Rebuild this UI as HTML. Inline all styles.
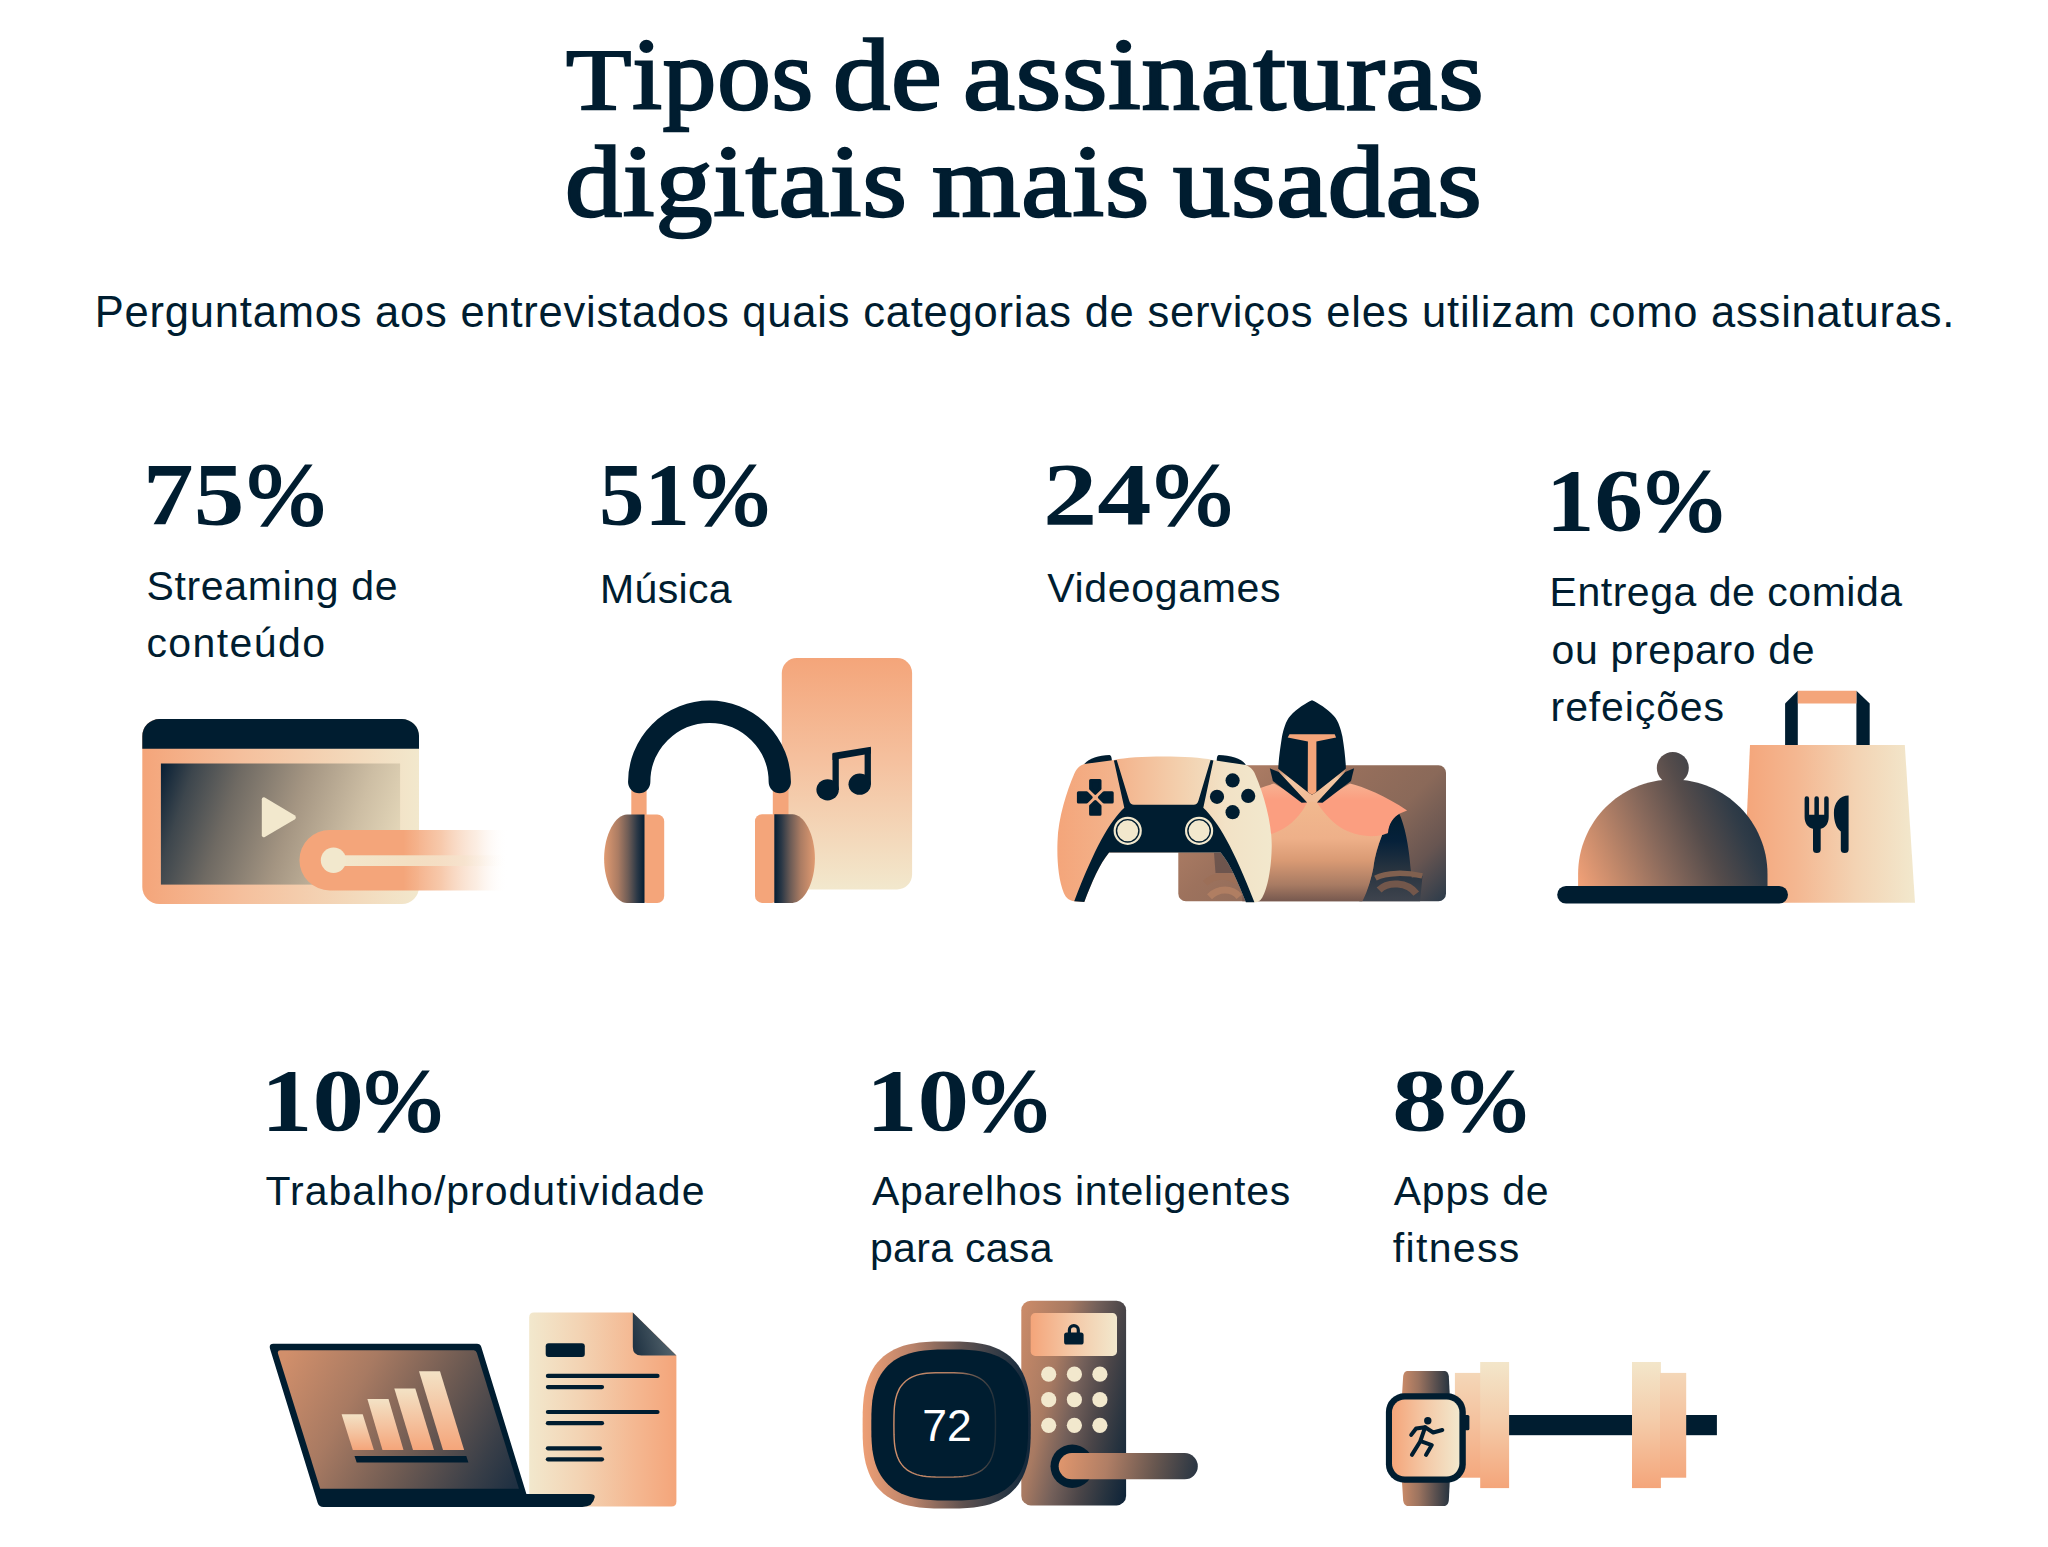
<!DOCTYPE html>
<html lang="pt-BR">
<head>
<meta charset="utf-8">
<title>Tipos de assinaturas digitais mais usadas</title>
<style>
html,body{margin:0;padding:0;background:#fff;}
body{width:2048px;height:1547px;position:relative;overflow:hidden;color:#001d30;}
.t{position:absolute;white-space:nowrap;line-height:1;margin:0;padding:0;transform-origin:0 50%;}
.h{font-family:"Liberation Serif","DejaVu Serif",serif;font-weight:400;font-size:101px;-webkit-text-stroke:2.4px #001d30;}
.n{font-family:"Liberation Serif","DejaVu Serif",serif;font-weight:700;font-size:89px;}
.p{font-weight:400;-webkit-text-stroke:2px #001d30;}
.s{font-family:"Liberation Sans","DejaVu Sans",sans-serif;font-weight:400;font-size:43.5px;}
.l{font-family:"Liberation Sans","DejaVu Sans",sans-serif;font-weight:400;font-size:41px;}
svg{position:absolute;overflow:visible;}
</style>
</head>
<body>
<!-- TITLE -->
<h1 style="margin:0;font-size:inherit;font-weight:inherit"><span class="t h" id="w1" style="left:565.6px;top:25.4px;letter-spacing:0.8px;transform:scaleX(1.06);"><span style="display:inline-block;transform:scaleY(.86);transform-origin:0 85.8px">T</span>ipos</span> <span class="t h" id="w2" style="left:833.4px;top:25.4px;letter-spacing:0.8px;transform:scaleX(1.131);">de</span> <span class="t h" id="w3" style="left:963.0px;top:25.4px;letter-spacing:0.8px;transform:scaleX(1.154);">assinaturas</span> <span class="t h" id="w4" style="left:565.0px;top:132.1px;letter-spacing:0.8px;transform:scaleX(1.128);">digitais</span> <span class="t h" id="w5" style="left:932.2px;top:132.1px;letter-spacing:0.8px;transform:scaleX(1.125);">mais</span> <span class="t h" id="w6" style="left:1173.2px;top:132.1px;letter-spacing:0.8px;transform:scaleX(1.129);">usadas</span></h1>
<p class="t s" id="sub" style="left:94.8px;top:291.0px;letter-spacing:0.79px;">Perguntamos aos entrevistados quais categorias de serviços eles utilizam como assinaturas.</p>

<!-- ROW 1 -->
<div class="t n" id="n1d" style="left:143.4px;top:450.0px;transform:scaleX(1.138);">75</div><div class="t n p" id="n1p" style="left:247.4px;top:450.0px;transform:scaleX(1.055);">%</div>
<div class="t l" id="l1a" style="left:146.4px;top:566.2px;letter-spacing:0.66px;">Streaming de</div>
<div class="t l" id="l1b" style="left:146.4px;top:622.8px;letter-spacing:1.43px;">conteúdo</div>

<div class="t n" id="n2d" style="left:599.0px;top:450.0px;transform:scaleX(1.022);">51</div><div class="t n p" id="n2p" style="left:690.8px;top:450.0px;transform:scaleX(1.057);">%</div>
<div class="t l" id="l2a" style="left:600.0px;top:568.6px;letter-spacing:0.36px;">Música</div>

<div class="t n" id="n3d" style="left:1043.4px;top:450.0px;transform:scaleX(1.22);">24</div><div class="t n p" id="n3p" style="left:1153.8px;top:450.0px;transform:scaleX(1.055);">%</div>
<div class="t l" id="l3a" style="left:1047.2px;top:568.4px;letter-spacing:0.69px;">Videogames</div>

<div class="t n" id="n4d" style="left:1546.4px;top:456.4px;transform:scaleX(1.089);">16</div><div class="t n p" id="n4p" style="left:1645.0px;top:456.4px;transform:scaleX(1.059);">%</div>
<div class="t l" id="l4a" style="left:1549.6px;top:572.2px;letter-spacing:0.52px;">Entrega de comida</div>
<div class="t l" id="l4b" style="left:1551.6px;top:629.6px;letter-spacing:0.63px;">ou preparo de</div>
<div class="t l" id="l4c" style="left:1550.6px;top:687.0px;letter-spacing:0.88px;">refeições</div>

<!-- ROW 2 -->
<div class="t n" id="n5d" style="left:260.8px;top:1056.2px;transform:scaleX(1.156);">10</div><div class="t n p" id="n5p" style="left:363.6px;top:1056.2px;transform:scaleX(1.057);">%</div>
<div class="t l" id="l5a" style="left:265.6px;top:1171.2px;letter-spacing:1.0px;">Trabalho/produtividade</div>

<div class="t n" id="n6d" style="left:866.4px;top:1056.2px;transform:scaleX(1.159);">10</div><div class="t n p" id="n6p" style="left:969.6px;top:1056.2px;transform:scaleX(1.057);">%</div>
<div class="t l" id="l6a" style="left:872.0px;top:1171.2px;letter-spacing:0.7px;">Aparelhos inteligentes</div>
<div class="t l" id="l6b" style="left:870.0px;top:1227.8px;letter-spacing:0.3px;">para casa</div>

<div class="t n" id="n7d" style="left:1391.6px;top:1056.0px;transform:scaleX(1.243);">8</div><div class="t n p" id="n7p" style="left:1449.4px;top:1056.0px;transform:scaleX(1.057);">%</div>
<div class="t l" id="l7a" style="left:1393.8px;top:1171.2px;letter-spacing:0.73px;">Apps de</div>
<div class="t l" id="l7b" style="left:1392.8px;top:1227.8px;letter-spacing:1.33px;">fitness</div>

<!-- ILLUSTRATIONS -->
<svg id="art" width="2048" height="1547" viewBox="0 0 2048 1547" style="left:0;top:0">
<!-- 1 streaming -->
<defs>
<linearGradient id="g1f" x1="0" x2="1" y1="0" y2="0"><stop offset="0" stop-color="#f4a57a"/><stop offset="0.35" stop-color="#f5bf9c"/><stop offset="1" stop-color="#f2e8cd"/></linearGradient>
<linearGradient id="g1s" gradientUnits="userSpaceOnUse" x1="161" y1="770" x2="400" y2="850"><stop offset="0" stop-color="#0a2136"/><stop offset="0.12" stop-color="#3d464d"/><stop offset="0.3" stop-color="#6f6a63"/><stop offset="0.55" stop-color="#a49582"/><stop offset="0.8" stop-color="#cdbea4"/><stop offset="1" stop-color="#e6d9bb"/></linearGradient>
<linearGradient id="g1p" gradientUnits="userSpaceOnUse" x1="299" y1="0" x2="508" y2="0"><stop offset="0" stop-color="#f4a57a"/><stop offset="0.5" stop-color="#f4a57a"/><stop offset="0.68" stop-color="#f6c3a2" stop-opacity="0.9"/><stop offset="0.85" stop-color="#f8dcc6" stop-opacity="0.5"/><stop offset="1" stop-color="#ffffff" stop-opacity="0"/></linearGradient>
<linearGradient id="g1l" gradientUnits="userSpaceOnUse" x1="333" y1="0" x2="508" y2="0"><stop offset="0" stop-color="#f2e8cd"/><stop offset="0.45" stop-color="#f3dfc2"/><stop offset="0.75" stop-color="#f6e3cd" stop-opacity="0.8"/><stop offset="1" stop-color="#ffffff" stop-opacity="0"/></linearGradient>
</defs>
<rect x="142.3" y="719.1" width="276.7" height="185" rx="17" fill="url(#g1f)"/>
<path d="M142.3 748.8V736.1a17 17 0 0 1 17-17H402a17 17 0 0 1 17 17V748.8Z" fill="#001d30"/>
<rect x="160.9" y="763.5" width="239.2" height="121.1" fill="url(#g1s)"/>
<path d="M264.8 797.6 L294.6 815.2 a2.6 2.6 0 0 1 0 4.4 L264.8 837 a2 2 0 0 1 -3 -1.7 V799.3 a2 2 0 0 1 3 -1.7Z" fill="#f2e8cd"/>
<path d="M329.7 829.9H508V890.4H329.7a30.25 30.25 0 0 1 0-60.5Z" fill="url(#g1p)"/>
<rect x="333" y="855.3" width="175" height="10.7" fill="url(#g1l)"/>
<circle cx="333.5" cy="860.2" r="12.7" fill="#f2e8cd"/>
<!-- 2 music -->
<defs>
<linearGradient id="g2p" x1="0" x2="0" y1="0" y2="1"><stop offset="0" stop-color="#f4a57a"/><stop offset="0.45" stop-color="#f5c19f"/><stop offset="1" stop-color="#f2e8cd"/></linearGradient>
<linearGradient id="g2l" x1="0" x2="1" y1="0" y2="0"><stop offset="0" stop-color="#e09a71"/><stop offset="0.35" stop-color="#ab7c63"/><stop offset="0.6" stop-color="#6d5c56"/><stop offset="0.82" stop-color="#2b3846"/><stop offset="1" stop-color="#031d33"/></linearGradient>
<linearGradient id="g2r" x1="1" x2="0" y1="0" y2="0"><stop offset="0" stop-color="#e09a71"/><stop offset="0.35" stop-color="#ab7c63"/><stop offset="0.6" stop-color="#6d5c56"/><stop offset="0.82" stop-color="#2b3846"/><stop offset="1" stop-color="#031d33"/></linearGradient>
</defs>
<rect x="781.8" y="658.1" width="130.3" height="231.3" rx="15" fill="url(#g2p)"/>
<rect x="631.3" y="786" width="15.3" height="32" fill="#f4a57a"/>
<rect x="772.8" y="786" width="15.7" height="32" fill="#f4a57a"/>
<path d="M639.2 782 A70.3 70.3 0 0 1 779.8 782" fill="none" stroke="#001d30" stroke-width="22.3" stroke-linecap="round"/>
<rect x="640" y="814.5" width="24.2" height="88.6" rx="7" fill="#f4a57a"/>
<path d="M644.5 814.5 H627 C615.5 814.5 604.1 834.4 604.1 858.8 C604.1 883.2 615.5 903.1 627 903.1 H644.5Z" fill="url(#g2l)"/>

<rect x="755" y="814.3" width="24" height="88.6" rx="7" fill="#f4a57a"/>
<path d="M774.3 814.3 H792.5 C804 814.3 814.9 834.2 814.9 858.6 C814.9 883 804 902.9 792.5 902.9 H774.3Z" fill="url(#g2r)"/>

<g fill="#001d30">
<polygon points="832.5,753.1 870.9,746.8 870.9,753.6 832.5,760.0"/>
<rect x="832.5" y="754" width="6.3" height="36" />
<rect x="864.6" y="748" width="6.3" height="36" />
<ellipse cx="827.6" cy="789.8" rx="11.2" ry="10.6"/>
<ellipse cx="859.7" cy="784.2" rx="11.2" ry="10.6"/>
</g>
<!-- 3 games -->
<defs>
<linearGradient id="g3b" gradientUnits="userSpaceOnUse" x1="1057" y1="0" x2="1272" y2="0"><stop offset="0" stop-color="#f4a57a"/><stop offset="0.3" stop-color="#f3b58e"/><stop offset="0.58" stop-color="#f3d0ae"/><stop offset="0.78" stop-color="#f2e2c6"/><stop offset="1" stop-color="#f2e8cd"/></linearGradient>
<linearGradient id="g3bg" gradientUnits="userSpaceOnUse" x1="1178" y1="765" x2="1379.5" y2="966.5"><stop offset="0" stop-color="#bd886c"/><stop offset="0.34" stop-color="#9d725d"/><stop offset="0.66" stop-color="#8a6959"/><stop offset="0.84" stop-color="#675551"/><stop offset="1" stop-color="#2c3b4a"/></linearGradient>
<linearGradient id="g3t" gradientUnits="userSpaceOnUse" x1="0" y1="800" x2="0" y2="901"><stop offset="0" stop-color="#f2b98f"/><stop offset="0.38" stop-color="#eeb089"/><stop offset="0.6" stop-color="#d99a74"/><stop offset="0.84" stop-color="#a87b63"/><stop offset="1" stop-color="#77594f"/></linearGradient>
<linearGradient id="g3a" gradientUnits="userSpaceOnUse" x1="0" y1="815" x2="0" y2="902"><stop offset="0" stop-color="#001d30"/><stop offset="0.3" stop-color="#06213a"/><stop offset="0.62" stop-color="#27333f"/><stop offset="1" stop-color="#3f444e"/></linearGradient>
<linearGradient id="g3s" gradientUnits="userSpaceOnUse" x1="1278" y1="770" x2="1310" y2="798"><stop offset="0" stop-color="#c08767"/><stop offset="0.3" stop-color="#f3c9a6"/><stop offset="1" stop-color="#f1bc96"/></linearGradient>
<linearGradient id="g3s2" gradientUnits="userSpaceOnUse" x1="1346" y1="770" x2="1314" y2="798"><stop offset="0" stop-color="#c08767"/><stop offset="0.3" stop-color="#f3c9a6"/><stop offset="1" stop-color="#f1bc96"/></linearGradient>
<linearGradient id="g3p" gradientUnits="userSpaceOnUse" x1="0" y1="778" x2="0" y2="815"><stop offset="0" stop-color="#f6b898"/><stop offset="0.6" stop-color="#fb9e80"/><stop offset="1" stop-color="#fb9e80"/></linearGradient>
<clipPath id="c3"><rect x="1178.3" y="765.3" width="267.7" height="135.9" rx="7.5"/></clipPath>
</defs>
<rect x="1178.3" y="765.3" width="267.7" height="135.9" rx="7.5" fill="url(#g3bg)"/>
<g clip-path="url(#c3)">
<path d="M1214.0 852.8 L1233.3 852.8 L1237.8 872.9 L1215.5 872.9 Z" fill="#5b4a48" opacity="0.7"/>
<path d="M1205.1 883.3 C1214.0 874.4 1227.4 874.4 1237.8 881.8" fill="none" stroke="#9c6f58" stroke-width="6.5"/>
<path d="M1209.5 896.7 C1218.4 887.8 1231.8 887.8 1239.3 896.7" fill="none" stroke="#b07e62" stroke-width="7"/>
<path d="M1387.7 833.5 C1388.0 823.8 1392.5 816.4 1399.2 813.7 C1404.4 823.8 1409.1 846.1 1410.6 868.4 L1411.8 877.7 L1422.5 875.9 L1420.0 902.6 L1358.3 902.6 C1365.7 895.2 1370.2 883.3 1373.2 868.4 C1374.6 856.5 1379.1 843.2 1382.1 835.0 Z" fill="url(#g3a)"/>
<path d="M1375.4 878.1 C1386.5 872.2 1405.9 872.2 1422.2 875.9" fill="none" stroke="#80604f" stroke-width="5.5"/>
<path d="M1379.1 890.0 C1388.0 881.1 1407.4 881.8 1416.3 893.7" fill="none" stroke="#73574b" stroke-width="7"/>
<path d="M1242.3 800.8 L1370.2 800.8 L1382.1 835.0 C1377.6 846.1 1374.6 856.5 1373.2 868.4 C1370.2 883.3 1365.7 895.2 1362.0 901.9 L1242.3 901.9 Z" fill="url(#g3t)"/>
<path d="M1316.9 802.5 L1350.0 783.6 C1363.4 786.7 1386.2 796.5 1407.1 810.5 L1399.8 813.6 C1393.4 817.2 1388.8 823.4 1388.0 832.7 L1382.2 835.0 C1363.4 838.9 1344.8 832.7 1332.4 821.3 C1326.2 815.1 1321.0 808.9 1316.9 802.5 Z" fill="url(#g3p)"/>
<path d="M1307.1 802.5 L1274.0 783.6 C1266.2 785.7 1255.9 789.3 1247.6 793.4 L1247.6 834.8 L1270.3 834.4 C1282.8 830.7 1294.1 822.4 1301.4 812.0 C1304.0 808.4 1305.5 805.3 1307.1 802.5 Z" fill="url(#g3p)"/>
<polygon points="1278.4,769.1 1307.7,792.1 1312.0,794.7 1312.0,801.2 1307.1,802.4 1278.8,771.9" fill="url(#g3s)"/>
<polygon points="1345.6,769.1 1316.4,792.1 1312.0,794.7 1312.0,801.2 1317.0,802.4 1345.2,771.9" fill="url(#g3s2)"/>
<polygon points="1269.8,768.3 1278.8,771.9 1307.1,802.4 1301.6,802.7 1272.9,781.0" fill="#001d30"/>
<polygon points="1354.1,768.3 1345.2,771.9 1317.0,802.4 1322.5,802.7 1351.0,781.0" fill="#001d30"/>
</g>
<path d="M1312.0 700.3 C1317.9 702.9 1327.2 708.6 1333.9 715.9 C1338.6 721.0 1341.2 730.3 1342.4 736.5 C1344.3 747.9 1345.4 758.3 1345.8 766.0 L1345.8 768.8 L1316.4 792.1 L1312.0 794.7 L1307.7 792.1 L1278.2 768.8 L1278.4 766.0 C1278.8 758.3 1280.2 747.9 1282.0 736.5 C1283.3 730.3 1285.6 721.0 1290.2 715.9 C1296.7 708.6 1306.2 702.9 1312.0 700.3 Z" fill="#001d30"/>
<polygon points="1289.5,734.3 1334.7,734.3 1336.1,737.4 1316.4,741.4 1316.4,791.9 1312.0,794.7 1307.7,791.9 1307.9,741.4 1287.7,737.4" fill="#f4a57a"/>
<path d="M1082.1 768.8 C1082.8 761.4 1095.8 755.1 1109.6 755.1 Q1111.4 755.4 1111.8 759.9 L1112.3 768.8 Z" fill="#001d30"/><path d="M1246.4 766.6 C1245.2 760.2 1231.8 755.1 1218.7 755.1 Q1217.0 755.4 1216.7 759.9 L1216.1 768.8 Z" fill="#001d30"/>
<path d="M1074.5 773.3 C1077.2 767.3 1080.9 764.8 1084.6 763.9 L1114.3 759.9 C1135.2 755.4 1191.7 755.4 1212.5 759.9 L1245.9 765.1 C1251.2 767.3 1253.8 771.0 1255.2 774.5 C1263.8 794.1 1272.3 823.8 1271.7 847.6 C1271.4 868.4 1267.5 889.3 1262.3 897.4 C1260.1 901.2 1257.1 902.6 1254.1 902.3 L1245.9 902.3 C1237.8 881.8 1230.3 864.0 1220.7 852.4 L1109.1 852.4 C1099.5 864.0 1092.0 881.8 1084.3 901.9 L1074.5 901.2 C1069.7 900.9 1066.0 898.2 1063.8 893.0 C1058.6 880.3 1056.8 861.0 1057.5 841.7 C1058.1 817.9 1066.8 791.1 1074.5 773.3 Z" fill="url(#g3b)"/>
<path d="M1113.9 760.5 L1116.7 759.9 L1129.2 800.8 Q1130.3 804.8 1134.0 804.8 L1193.6 804.8 Q1197.3 804.8 1198.4 800.8 L1210.6 759.9 L1213.4 760.5 L1203.3 807.8 C1218.4 822.3 1233.3 847.6 1254.4 902.3 L1245.9 902.3 C1237.8 881.8 1230.3 864.0 1220.7 852.4 L1109.1 852.4 C1099.5 864.0 1092.0 881.8 1084.3 901.9 L1074.2 901.2 C1095.0 847.6 1109.1 822.3 1124.3 807.8 Z" fill="#001d30"/>
<circle cx="1127.7" cy="830.8" r="14.1" fill="#f2e8cd"/><circle cx="1127.7" cy="830.8" r="11.2" fill="none" stroke="#001d30" stroke-width="1.4"/><circle cx="1199.1" cy="830.8" r="14.1" fill="#f2e8cd"/><circle cx="1199.1" cy="830.8" r="11.2" fill="none" stroke="#001d30" stroke-width="1.4"/>
<g fill="#001d30" stroke="#001d30" stroke-width="3.2" stroke-linejoin="round">
<polygon points="1090.7,780.6 1099.9,780.6 1099.9,788.7 1095.3,793.2 1090.7,788.7"/>
<polygon points="1090.7,780.6 1099.9,780.6 1099.9,788.7 1095.3,793.2 1090.7,788.7" transform="rotate(90 1095.3 797.4)"/>
<polygon points="1090.7,780.6 1099.9,780.6 1099.9,788.7 1095.3,793.2 1090.7,788.7" transform="rotate(180 1095.3 797.4)"/>
<polygon points="1090.7,780.6 1099.9,780.6 1099.9,788.7 1095.3,793.2 1090.7,788.7" transform="rotate(270 1095.3 797.4)"/>
</g>
<circle cx="1232.6" cy="780.4" r="7.1" fill="#001d30" /><circle cx="1217.0" cy="796.8" r="7.1" fill="#001d30" /><circle cx="1248.2" cy="795.9" r="7.1" fill="#001d30" /><circle cx="1232.6" cy="812.2" r="7.1" fill="#001d30" />
<!-- 4 food -->
<defs>
<linearGradient id="g4b" gradientUnits="userSpaceOnUse" x1="1745" y1="0" x2="1915" y2="0"><stop offset="0" stop-color="#f4a57a"/><stop offset="0.3" stop-color="#f4b791"/><stop offset="0.65" stop-color="#f3d3b3"/><stop offset="1" stop-color="#f2e8cd"/></linearGradient>
<linearGradient id="g4d" gradientUnits="userSpaceOnUse" x1="1578" y1="880" x2="1762" y2="800"><stop offset="0" stop-color="#f0a077"/><stop offset="0.18" stop-color="#c58a6b"/><stop offset="0.42" stop-color="#8a6a5c"/><stop offset="0.65" stop-color="#554c4b"/><stop offset="0.85" stop-color="#2f3b47"/><stop offset="1" stop-color="#1d3041"/></linearGradient>
</defs>
<polygon points="1785.1,703.4 1797.8,690.7 1797.8,746.4 1785.1,746.4" fill="#001d30"/><polygon points="1856.4,690.7 1869.7,703.4 1869.7,746.4 1856.4,746.4" fill="#001d30"/><polygon points="1797.8,690.7 1856.4,690.7 1856.4,703.4 1797.8,703.4" fill="#f4a57a"/>
<polygon points="1750.0,745.0 1904.8,745.0 1915.0,902.7 1743.1,902.7" fill="url(#g4b)"/>
<path d="M1804.6 798.4 Q1804.6 796.2 1806.8 796.2 Q1809.1 796.2 1809.1 798.4 L1809.1 814.8 L1814.4 814.8 L1814.4 798.4 Q1814.4 796.2 1816.6 796.2 Q1818.9 796.2 1818.9 798.4 L1818.9 814.8 L1824.2 814.8 L1824.2 798.4 Q1824.2 796.2 1826.3 796.2 Q1828.7 796.2 1828.7 798.4 L1828.7 816.7 C1828.7 823.6 1825.5 827.5 1820.7 828.8 L1820.7 849.5 Q1820.7 853.0 1816.8 853.0 Q1813.0 853.0 1813.0 849.5 L1813.0 828.8 C1808.0 827.5 1804.6 823.6 1804.6 816.7 Z" fill="#001d30"/><path d="M1848.6 795.6 L1848.6 849.5 Q1848.6 853.0 1844.7 853.0 Q1840.8 853.0 1840.8 849.5 L1840.8 831.4 C1835.9 828.4 1833.9 820.6 1833.9 812.8 C1833.9 803.0 1839.8 795.6 1848.6 795.6 Z" fill="#001d30"/>
<path d="M1578.1 890 V874 C1578.1 822 1620 779.4 1672.8 779.4 C1725.6 779.4 1767.5 822 1767.5 874 V890Z" fill="url(#g4d)"/>
<circle cx="1672.8" cy="767.9" r="16" fill="url(#g4d)"/>
<rect x="1557.2" y="886" width="230.8" height="17.6" rx="8.8" fill="#001d30"/>
<!-- 5 work -->
<defs>
<linearGradient id="g5s" gradientUnits="userSpaceOnUse" x1="285" y1="1355" x2="515" y2="1485"><stop offset="0" stop-color="#d18f6b"/><stop offset="0.3" stop-color="#a87a62"/><stop offset="0.6" stop-color="#6d5a52"/><stop offset="0.85" stop-color="#3a3f48"/><stop offset="1" stop-color="#1f3042"/></linearGradient>
<linearGradient id="g5c" x1="0" y1="0" x2="0" y2="1"><stop offset="0" stop-color="#f3e2c5"/><stop offset="0.5" stop-color="#f4c4a1"/><stop offset="1" stop-color="#f4a57a"/></linearGradient>
<linearGradient id="g5d" gradientUnits="userSpaceOnUse" x1="529" y1="0" x2="676" y2="0"><stop offset="0" stop-color="#f2e8cd"/><stop offset="0.35" stop-color="#f3d3b3"/><stop offset="0.7" stop-color="#f4b993"/><stop offset="1" stop-color="#f4a57a"/></linearGradient>
<linearGradient id="g5f" gradientUnits="userSpaceOnUse" x1="633" y1="1340" x2="670" y2="1330"><stop offset="0" stop-color="#213444"/><stop offset="1" stop-color="#55656e"/></linearGradient>
</defs>
<path d="M533.9 1312.6 L632.8 1312.6 L676.4 1355.5 L676.4 1501.6 Q676.4 1506.6 671.4 1506.6 L533.9 1506.6 Q529.2 1506.6 529.2 1501.6 L529.2 1317.5 Q529.2 1312.6 533.9 1312.6 Z" fill="url(#g5d)"/>
<path d="M632.8 1312.6 L676.4 1355.5 L641.4 1355.5 Q632.8 1355.5 632.8 1346.9 Z" fill="url(#g5f)"/>
<rect x="545.7" y="1343.3" width="39.1" height="13.7" rx="3" fill="#001d30"/>
<g stroke="#001d30" stroke-width="4.2" stroke-linecap="round"><line x1="547.9" y1="1375.9" x2="657.5" y2="1375.9"/><line x1="547.9" y1="1387.1" x2="602.0" y2="1387.1"/><line x1="547.9" y1="1412.0" x2="657.5" y2="1412.0"/><line x1="547.9" y1="1423.2" x2="602.0" y2="1423.2"/><line x1="547.9" y1="1448.3" x2="599.9" y2="1448.3"/><line x1="547.9" y1="1459.3" x2="602.0" y2="1459.3"/></g>
<path d="M273.3 1343.7 L477.0 1343.7 Q480.2 1343.7 481.3 1346.9 L526.4 1494.1 L589.8 1494.1 Q595.2 1494.1 594.7 1497.3 Q593.0 1507.0 582.3 1507.0 L323.4 1507.0 Q319.1 1507.0 317.6 1502.7 L270.1 1349.1 Q268.6 1343.7 273.3 1343.7 Z" fill="#001d30"/>
<path d="M280.4 1350.2 L473.8 1350.2 Q475.9 1350.2 476.8 1352.7 L518.9 1488.7 L320.2 1488.7 L278.0 1353.4 Q277.2 1350.2 280.4 1350.2 Z" fill="url(#g5s)"/>
<polygon points="341.6,1414.2 362.7,1414.2 373.9,1450.1 352.8,1450.1" fill="url(#g5c)"/><polygon points="367.4,1399.1 388.5,1399.1 403.5,1450.1 382.5,1450.1" fill="url(#g5c)"/><polygon points="394.3,1388.4 415.3,1388.4 434.0,1450.1 413.0,1450.1" fill="url(#g5c)"/><polygon points="419.0,1371.2 440.0,1371.2 464.1,1450.1 443.0,1450.1" fill="url(#g5c)"/>
<polygon points="354.5,1455.9 466.3,1455.9 468.4,1462.5 356.7,1462.5" fill="#001d30"/>
<!-- 6 smart home -->
<defs>
<linearGradient id="g6b" gradientUnits="userSpaceOnUse" x1="1021" y1="1300" x2="1166.6" y2="1334.7"><stop offset="0" stop-color="#cd8c69"/><stop offset="0.317" stop-color="#a87a62"/><stop offset="0.5" stop-color="#74605a"/><stop offset="0.68" stop-color="#4a4548"/><stop offset="0.85" stop-color="#27333f"/><stop offset="1" stop-color="#0c2238"/></linearGradient>
<linearGradient id="g6d" gradientUnits="userSpaceOnUse" x1="1031" y1="0" x2="1117" y2="0"><stop offset="0" stop-color="#f4a57a"/><stop offset="0.45" stop-color="#f4c6a4"/><stop offset="1" stop-color="#f2e8cd"/></linearGradient>
<linearGradient id="g6o" gradientUnits="userSpaceOnUse" x1="862" y1="0" x2="1031" y2="0"><stop offset="0" stop-color="#ee9f75"/><stop offset="0.3" stop-color="#b8826a"/><stop offset="0.6" stop-color="#5e514f"/><stop offset="0.85" stop-color="#2b3744"/><stop offset="1" stop-color="#10263a"/></linearGradient>
<linearGradient id="g6l" gradientUnits="userSpaceOnUse" x1="1060" y1="1455" x2="1195" y2="1480"><stop offset="0" stop-color="#e0966d"/><stop offset="0.35" stop-color="#b07e65"/><stop offset="0.7" stop-color="#66564f"/><stop offset="1" stop-color="#2a3643"/></linearGradient>
<linearGradient id="g6r" gradientUnits="userSpaceOnUse" x1="894" y1="0" x2="996" y2="0"><stop offset="0" stop-color="#d18f6b"/><stop offset="0.6" stop-color="#c08767" stop-opacity="0.9"/><stop offset="1" stop-color="#c08767" stop-opacity="0.15"/></linearGradient>
</defs>
<rect x="1021.3" y="1300.8" width="104.8" height="204.6" rx="9.5" fill="url(#g6b)"/>
<rect x="1030.7" y="1313.1" width="86.3" height="42.8" rx="4.5" fill="url(#g6d)"/>
<rect x="1064.1" y="1332.5" width="19.5" height="12.1" rx="2.6" fill="#001d30"/>
<path d="M1069.4 1334 V1330 a4.45 4.45 0 0 1 8.9 0 V1334" fill="none" stroke="#001d30" stroke-width="3.2"/>
<g fill="#f2e8cd"><circle cx="1048.7" cy="1374.2" r="7.6"/><circle cx="1048.7" cy="1399.7" r="7.6"/><circle cx="1048.7" cy="1425.3" r="7.6"/><circle cx="1074.4" cy="1374.2" r="7.6"/><circle cx="1074.4" cy="1399.7" r="7.6"/><circle cx="1074.4" cy="1425.3" r="7.6"/><circle cx="1099.9" cy="1374.2" r="7.6"/><circle cx="1099.9" cy="1399.7" r="7.6"/><circle cx="1099.9" cy="1425.3" r="7.6"/></g>
<circle cx="1072.2" cy="1466.2" r="21.7" fill="#001d30"/>
<rect x="1058.7" y="1453.1" width="139.1" height="26.2" rx="13.1" fill="url(#g6l)"/>
<polygon points="1030.8,1425.0 1030.7,1437.7 1030.3,1445.5 1029.7,1452.1 1028.8,1457.9 1027.7,1463.2 1026.3,1468.1 1024.7,1472.6 1022.9,1476.8 1020.7,1480.7 1018.4,1484.4 1015.8,1487.7 1012.9,1490.8 1009.8,1493.7 1006.4,1496.3 1002.8,1498.6 998.8,1500.7 994.6,1502.6 990.1,1504.2 985.1,1505.5 979.8,1506.6 973.9,1507.5 967.4,1508.1 959.5,1508.5 946.7,1508.6 933.9,1508.5 926.0,1508.1 919.5,1507.5 913.6,1506.6 908.3,1505.5 903.3,1504.2 898.8,1502.6 894.6,1500.7 890.6,1498.6 887.0,1496.3 883.6,1493.7 880.5,1490.8 877.6,1487.7 875.0,1484.4 872.7,1480.7 870.5,1476.8 868.7,1472.6 867.1,1468.1 865.7,1463.2 864.6,1457.9 863.7,1452.1 863.1,1445.5 862.7,1437.7 862.6,1425.0 862.7,1412.3 863.1,1404.5 863.7,1397.9 864.6,1392.1 865.7,1386.8 867.1,1381.9 868.7,1377.4 870.5,1373.2 872.7,1369.3 875.0,1365.6 877.6,1362.3 880.5,1359.2 883.6,1356.3 887.0,1353.7 890.6,1351.4 894.6,1349.3 898.8,1347.4 903.3,1345.8 908.3,1344.5 913.6,1343.4 919.5,1342.5 926.0,1341.9 933.9,1341.5 946.7,1341.4 959.5,1341.5 967.4,1341.9 973.9,1342.5 979.8,1343.4 985.1,1344.5 990.1,1345.8 994.6,1347.4 998.8,1349.3 1002.8,1351.4 1006.4,1353.7 1009.8,1356.3 1012.9,1359.2 1015.8,1362.3 1018.4,1365.6 1020.7,1369.3 1022.9,1373.2 1024.7,1377.4 1026.3,1381.9 1027.7,1386.8 1028.8,1392.1 1029.7,1397.9 1030.3,1404.5 1030.7,1412.3" fill="url(#g6o)"/>
<polygon points="1028.1,1425.0 1028.0,1436.5 1027.6,1443.5 1027.1,1449.5 1026.2,1454.7 1025.2,1459.5 1023.9,1463.9 1022.4,1468.0 1020.7,1471.8 1018.7,1475.3 1016.5,1478.6 1014.1,1481.6 1011.4,1484.4 1008.5,1487.0 1005.4,1489.4 1002.0,1491.5 998.3,1493.4 994.4,1495.0 990.1,1496.5 985.5,1497.7 980.6,1498.7 975.1,1499.5 969.0,1500.1 961.7,1500.4 949.7,1500.5 937.7,1500.4 930.4,1500.1 924.3,1499.5 918.8,1498.7 913.9,1497.7 909.3,1496.5 905.0,1495.0 901.1,1493.4 897.4,1491.5 894.0,1489.4 890.9,1487.0 888.0,1484.4 885.3,1481.6 882.9,1478.6 880.7,1475.3 878.7,1471.8 877.0,1468.0 875.5,1463.9 874.2,1459.5 873.2,1454.7 872.3,1449.5 871.8,1443.5 871.4,1436.5 871.3,1425.0 871.4,1413.5 871.8,1406.5 872.3,1400.5 873.2,1395.3 874.2,1390.5 875.5,1386.1 877.0,1382.0 878.7,1378.2 880.7,1374.7 882.9,1371.4 885.3,1368.4 888.0,1365.6 890.9,1363.0 894.0,1360.6 897.4,1358.5 901.1,1356.6 905.0,1355.0 909.3,1353.5 913.9,1352.3 918.8,1351.3 924.3,1350.5 930.4,1349.9 937.7,1349.6 949.7,1349.5 961.7,1349.6 969.0,1349.9 975.1,1350.5 980.6,1351.3 985.5,1352.3 990.1,1353.5 994.4,1355.0 998.3,1356.6 1002.0,1358.5 1005.4,1360.6 1008.5,1363.0 1011.4,1365.6 1014.1,1368.4 1016.5,1371.4 1018.7,1374.7 1020.7,1378.2 1022.4,1382.0 1023.9,1386.1 1025.2,1390.5 1026.2,1395.3 1027.1,1400.5 1027.6,1406.5 1028.0,1413.5" fill="#001d30"/>
<polygon points="995.5,1424.9 995.4,1434.4 995.2,1439.5 994.9,1443.7 994.4,1447.3 993.8,1450.6 993.0,1453.5 992.2,1456.2 991.1,1458.7 990.0,1461.1 988.7,1463.2 987.2,1465.1 985.6,1466.9 983.9,1468.6 982.0,1470.1 979.9,1471.4 977.6,1472.6 975.2,1473.7 972.6,1474.6 969.7,1475.4 966.5,1476.0 963.0,1476.5 958.9,1476.8 953.9,1477.0 944.7,1477.1 935.5,1477.0 930.5,1476.8 926.4,1476.5 922.9,1476.0 919.7,1475.4 916.8,1474.6 914.2,1473.7 911.8,1472.6 909.5,1471.4 907.4,1470.1 905.5,1468.6 903.8,1466.9 902.2,1465.1 900.7,1463.2 899.4,1461.1 898.3,1458.7 897.2,1456.2 896.4,1453.5 895.6,1450.6 895.0,1447.3 894.5,1443.7 894.2,1439.5 894.0,1434.4 893.9,1424.9 894.0,1415.4 894.2,1410.3 894.5,1406.1 895.0,1402.5 895.6,1399.2 896.4,1396.3 897.2,1393.6 898.3,1391.1 899.4,1388.7 900.7,1386.6 902.2,1384.7 903.8,1382.9 905.5,1381.2 907.4,1379.7 909.5,1378.4 911.8,1377.2 914.2,1376.1 916.8,1375.2 919.7,1374.4 922.9,1373.8 926.4,1373.3 930.5,1373.0 935.5,1372.8 944.7,1372.7 953.9,1372.8 958.9,1373.0 963.0,1373.3 966.5,1373.8 969.7,1374.4 972.6,1375.2 975.2,1376.1 977.6,1377.2 979.9,1378.4 982.0,1379.7 983.9,1381.2 985.6,1382.9 987.2,1384.7 988.7,1386.6 990.0,1388.7 991.1,1391.1 992.2,1393.6 993.0,1396.3 993.8,1399.2 994.4,1402.5 994.9,1406.1 995.2,1410.3 995.4,1415.4" fill="none" stroke="url(#g6r)" stroke-width="1.4"/>
<text x="947" y="1440.6" text-anchor="middle" font-family="Liberation Sans, DejaVu Sans, sans-serif" font-size="44" font-weight="400" fill="#ffffff" stroke="#001d30" stroke-width="0.9" paint-order="stroke" textLength="49.5" lengthAdjust="spacingAndGlyphs">72</text>
<!-- 7 fitness -->
<defs>
<linearGradient id="g7p" x1="0" y1="0" x2="0" y2="1"><stop offset="0" stop-color="#f3e6ca"/><stop offset="0.45" stop-color="#f4cdab"/><stop offset="1" stop-color="#f4a57a"/></linearGradient>
<linearGradient id="g7q" x1="0" y1="0" x2="0" y2="1"><stop offset="0" stop-color="#f4d7b8"/><stop offset="0.5" stop-color="#f4c09c"/><stop offset="1" stop-color="#f4a87e"/></linearGradient>
<linearGradient id="g7s" gradientUnits="userSpaceOnUse" x1="1402" y1="0" x2="1450" y2="0"><stop offset="0" stop-color="#c98a68"/><stop offset="0.35" stop-color="#9b735f"/><stop offset="0.7" stop-color="#5a504f"/><stop offset="1" stop-color="#26333f"/></linearGradient>
<linearGradient id="g7w" gradientUnits="userSpaceOnUse" x1="1392" y1="0" x2="1459.4" y2="0"><stop offset="0" stop-color="#f4a57a"/><stop offset="0.5" stop-color="#f4c9a7"/><stop offset="1" stop-color="#f2e8cd"/></linearGradient>
</defs>
<rect x="1509" y="1415" width="207.9" height="20.2" fill="#001d30"/>
<rect x="1454.9" y="1372.9" width="26.2" height="104.8" fill="url(#g7q)"/>
<rect x="1480.2" y="1362" width="28.9" height="126.1" fill="url(#g7p)"/>
<rect x="1632" y="1362" width="28.9" height="126.1" fill="url(#g7p)"/>
<rect x="1660" y="1372.9" width="26.2" height="104.8" fill="url(#g7q)"/>
<path d="M1407.0 1371.1 L1445.0 1371.1 Q1448.0 1371.6 1448.8 1376.1 L1449.9 1397.8 L1449.9 1479.1 L1448.8 1500.8 Q1448.0 1505.3 1445.0 1505.9 L1407.0 1505.9 Q1404.0 1505.3 1403.2 1500.8 L1401.8 1479.1 L1401.8 1397.8 L1403.2 1376.1 Q1404.0 1371.6 1407.0 1371.1 Z" fill="url(#g7s)"/>
<rect x="1464" y="1415" width="5.4" height="15.3" rx="1.6" fill="#001d30"/>
<rect x="1385.9" y="1393.3" width="79.9" height="89.4" rx="18.5" fill="#001d30"/>
<rect x="1392" y="1399.6" width="67.4" height="76.8" rx="12.8" fill="url(#g7w)"/>
<circle cx="1427.8" cy="1420.8" r="3.7" fill="#001d30"/>
<g fill="none" stroke="#001d30" stroke-width="4" stroke-linecap="round" stroke-linejoin="round">
<path d="M1411.2 1434.9 L1416.1 1428.5 L1425.1 1427.3 L1420.2 1441.5 L1411.9 1454.9"/>
<path d="M1425.1 1427.3 L1433.2 1432.5 L1442.3 1430.0"/>
<path d="M1420.6 1441.2 L1431.8 1445.1 L1426.0 1454.9"/>
</g>
</svg>
</body>
</html>
